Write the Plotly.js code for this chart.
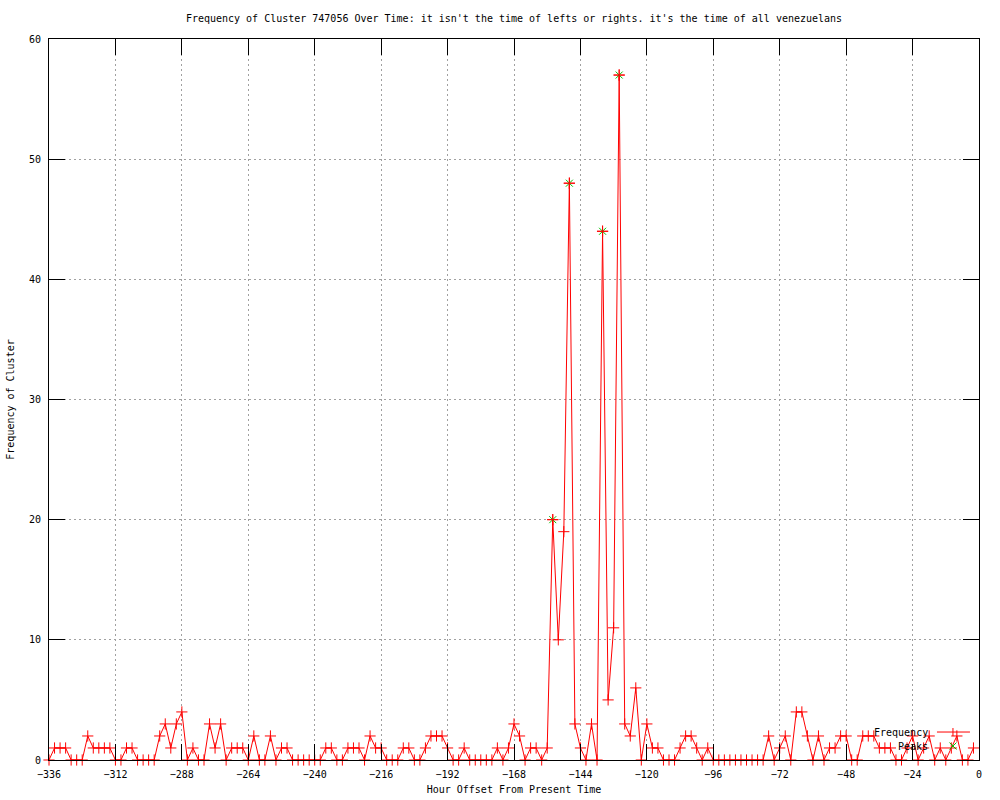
<!DOCTYPE html>
<html>
<head>
<meta charset="utf-8">
<script src="https://cdn.plot.ly/plotly-3.0.1.min.js"></script>
<style>
  html, body { margin: 0; padding: 0; background: #ffffff; }
  #chart { width: 1000px; height: 800px; }
</style>
</head>
<body>
<div id="chart"></div>
<script>
// ---- Data ----
const START_HOUR = -336;   // first sample (hour offset)
const HOUR_STEP = 2;       // samples every 2 hours

const frequency = [
  0, 1, 1, 1, 0, 0, 0, 2, 1, 1, 1, 1,
  0, 0, 1, 1, 0, 0, 0, 0, 2, 3, 1, 3,
  4, 0, 1, 0, 0, 3, 1, 3, 0, 1, 1, 1,
  0, 2, 0, 0, 2, 0, 1, 1, 0, 0, 0, 0,
  0, 0, 1, 1, 0, 0, 1, 1, 1, 0, 2, 1,
  1, 0, 0, 0, 1, 1, 0, 0, 1, 2, 2, 2,
  1, 0, 0, 1, 0, 0, 0, 0, 0, 1, 0, 1,
  3, 2, 0, 1, 1, 0, 1, 20, 10, 19, 48, 3,
  1, 0, 3, 0, 44, 5, 11, 57, 3, 2, 6, 0,
  3, 1, 1, 0, 0, 0, 1, 2, 2, 1, 0, 1,
  0, 0, 0, 0, 0, 0, 0, 0, 0, 0, 2, 0,
  1, 2, 0, 4, 4, 2, 0, 2, 0, 1, 1, 2,
  2, 0, 0, 2, 2, 2, 1, 1, 1, 0, 0, 1,
  2, 0, 1, 2, 0, 1, 0, 1, 2, 0, 0, 1
];

const peakHours  = [-154, -148, -136, -130];
const peakValues = [20, 48, 44, 57];

const xTickVals = [-336, -312, -288, -264, -240, -216, -192, -168, -144, -120, -96, -72, -48, -24, 0];
const yTickVals = [0, 10, 20, 30, 40, 50, 60];

const titleText = "Frequency of Cluster 747056 Over Time: it isn't the time of lefts or rights. it's the time of all venezuelans";
const xTitle = "Hour Offset From Present Time";
const yTitle = "Frequency of Cluster";
const legendNames = ["Frequency", "Peaks"];

// hour offsets for each sample
const hours = frequency.map((_, i) => START_HOUR + HOUR_STEP * i);

// ---- Styling ----
const FONT = { family: "DejaVu Sans Mono, monospace", size: 10, color: "#000000" };
const RED = "#ff0000";
const GREEN = "#00c000";

const traces = [
  {
    x: hours, y: frequency, name: legendNames[0],
    type: "scatter", mode: "lines+markers",
    line: { color: RED, width: 1 },
    marker: { symbol: "cross-thin", size: 8, color: RED, line: { color: RED, width: 1 } },
    cliponaxis: false, showlegend: false
  },
  {
    x: peakHours, y: peakValues, name: legendNames[1],
    type: "scatter", mode: "markers",
    marker: { symbol: "x-thin", size: 7, color: GREEN, line: { color: GREEN, width: 1 } },
    cliponaxis: false, showlegend: false
  },
  {
    // red + drawn again on top of the peak crosses
    x: peakHours, y: peakValues, name: legendNames[0],
    type: "scatter", mode: "markers",
    marker: { symbol: "cross-thin", size: 8, color: RED, line: { color: RED, width: 1 } },
    cliponaxis: false, showlegend: false, hoverinfo: "skip"
  }
];

// legend drawn gnuplot-style (text, then sample)
const LX_TEXT = 0.9473, LX_SAMPLE = 0.9720;
const LY1 = 0.0388, LY2 = 0.0194;
const shapes = [
  { type: "line", xref: "paper", yref: "paper", x0: 0.9548, x1: 0.9903, y0: LY1, y1: LY1,
    line: { color: RED, width: 1 } },
  { type: "line", xref: "paper", yref: "paper", xsizemode: "pixel", ysizemode: "pixel",
    xanchor: LX_SAMPLE, yanchor: LY1, x0: 0, x1: 0, y0: -4, y1: 4, line: { color: RED, width: 1 } },
  { type: "line", xref: "paper", yref: "paper", xsizemode: "pixel", ysizemode: "pixel",
    xanchor: LX_SAMPLE, yanchor: LY2, x0: -3.5, x1: 3.5, y0: -3.5, y1: 3.5, line: { color: GREEN, width: 1 } },
  { type: "line", xref: "paper", yref: "paper", xsizemode: "pixel", ysizemode: "pixel",
    xanchor: LX_SAMPLE, yanchor: LY2, x0: -3.5, x1: 3.5, y0: 3.5, y1: -3.5, line: { color: GREEN, width: 1 } }
];

const annotations = [
  { text: legendNames[0], xref: "paper", yref: "paper", x: LX_TEXT, y: LY1,
    xanchor: "right", yanchor: "middle", showarrow: false, font: FONT },
  { text: legendNames[1], xref: "paper", yref: "paper", x: LX_TEXT, y: LY2,
    xanchor: "right", yanchor: "middle", showarrow: false, font: FONT }
];

const axisCommon = {
  showline: true, linecolor: "#000000", linewidth: 1, mirror: "ticks",
  ticks: "inside", ticklen: 16, tickwidth: 1, tickcolor: "#000000",
  showgrid: true, gridcolor: "#a0a0a0", gridwidth: 1, griddash: "2px,3px",
  zeroline: false, tickfont: FONT, automargin: false, layer: "above traces"
};

const layout = {
  width: 1000, height: 800,
  paper_bgcolor: "#ffffff", plot_bgcolor: "#ffffff",
  margin: { l: 49, r: 21, t: 39, b: 40, pad: 0 },
  font: FONT,
  showlegend: false,
  title: { text: titleText, font: FONT, x: 0.514, xanchor: "center", y: 1 - 18 / 800, yanchor: "middle", xref: "container", yref: "container" },
  xaxis: Object.assign({}, axisCommon, {
    range: [-336, 0], tickmode: "array", tickvals: xTickVals,
    ticklabelstandoff: 5,
    title: { text: xTitle, font: FONT, standoff: 6 }
  }),
  yaxis: Object.assign({}, axisCommon, {
    range: [0, 60], tickmode: "array", tickvals: yTickVals,
    ticklabelstandoff: 5,
    title: { text: yTitle, font: FONT, standoff: 12 }
  }),
  shapes: shapes,
  annotations: annotations
};

Plotly.newPlot("chart", traces, layout, { displayModeBar: false, staticPlot: true });
</script>
</body>
</html>
